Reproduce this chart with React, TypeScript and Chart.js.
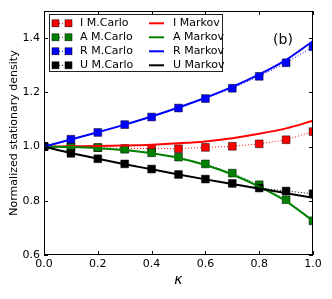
import React, { useEffect, useRef } from "react";
import { Chart, registerables } from "chart.js";
Chart.register(...registerables);

const kappa = [0, 0.1, 0.2, 0.3, 0.4, 0.5, 0.6, 0.7, 0.8, 0.9, 1.0];
const iMC = [1.0, 0.998, 0.996, 0.993, 0.993, 0.992, 0.997, 1.001, 1.01, 1.025, 1.055];
const aMC = [1.0, 0.998, 0.996, 0.99, 0.977, 0.961, 0.936, 0.902, 0.859, 0.804, 0.726];
const rMC = [1.0, 1.027, 1.052, 1.081, 1.109, 1.142, 1.177, 1.215, 1.259, 1.309, 1.368];
const uMC = [1.0, 0.975, 0.955, 0.936, 0.917, 0.897, 0.88, 0.864, 0.847, 0.836, 0.826];
const iMarkov = [1.0, 1.001, 1.002, 1.004, 1.007, 1.012, 1.019, 1.031, 1.047, 1.067, 1.095];
const aMarkov = [1.0, 0.998, 0.994, 0.987, 0.975, 0.958, 0.932, 0.897, 0.852, 0.798, 0.726];
const rMarkov = [1.0, 1.026, 1.053, 1.081, 1.111, 1.144, 1.18, 1.22, 1.266, 1.32, 1.389];
const uMarkov = [1.0, 0.976, 0.955, 0.935, 0.916, 0.897, 0.879, 0.862, 0.845, 0.828, 0.811];

const mcLabels = ["I M.Carlo", "A M.Carlo", "R M.Carlo", "U M.Carlo"];
const markovLabels = ["I Markov", "A Markov", "R Markov", "U Markov"];
const colors = ["#ff0000", "#008000", "#0000ff", "#000000"];
const xTicks = [0, 0.2, 0.4, 0.6, 0.8, 1.0];
const yTicks = [0.6, 0.8, 1.0, 1.2, 1.4];
const panelLabel = "(b)";
const xTitle = "κ";
const yTitle = "Normalized stationary density";

const FONT = "'DejaVu Sans', sans-serif";

const pts = (ys: number[]) => ys.map((y, i) => ({ x: kappa[i], y }));

const framePlugin = {
  id: "frame",
  afterDatasetsDraw(chart: any) {
    const { ctx, chartArea: a, scales } = chart;
    ctx.save();
    ctx.strokeStyle = "#000";
    ctx.lineWidth = 1;
    const L = 4;
    ctx.beginPath();
    for (const v of xTicks) {
      const px = Math.round(scales.x.getPixelForValue(v)) + 0.5;
      ctx.moveTo(px, a.bottom);
      ctx.lineTo(px, a.bottom - L);
      ctx.moveTo(px, a.top);
      ctx.lineTo(px, a.top + L);
    }
    for (const v of yTicks) {
      const py = Math.round(scales.y.getPixelForValue(v)) + 0.5;
      ctx.moveTo(a.left, py);
      ctx.lineTo(a.left + L, py);
      ctx.moveTo(a.right, py);
      ctx.lineTo(a.right - L, py);
    }
    ctx.stroke();
    ctx.strokeRect(a.left + 0.5, a.top + 0.5, a.right - a.left - 1, a.bottom - a.top - 1);
    ctx.restore();
  },
  afterDraw(chart: any) {
    const { ctx } = chart;
    ctx.save();
    // panel label
    ctx.fillStyle = "#000";
    ctx.font = `14px ${FONT}`;
    ctx.textAlign = "center";
    ctx.textBaseline = "alphabetic";
    ctx.fillText(panelLabel, 283, 43.5);
    // legend
    const bx = 49.5, by = 14.5, bw = 173, bh = 57;
    ctx.fillStyle = "#fff";
    ctx.fillRect(bx, by, bw, bh);
    ctx.strokeStyle = "#222";
    ctx.lineWidth = 1;
    ctx.strokeRect(bx, by, bw, bh);
    ctx.font = `11px ${FONT}`;
    ctx.textAlign = "left";
    ctx.textBaseline = "middle";
    for (let i = 0; i < 4; i++) {
      const ry = 23.3 + i * 14;
      const c = colors[i];
      // MC sample
      ctx.strokeStyle = c;
      ctx.lineWidth = 1;
      ctx.setLineDash([1, 2]);
      ctx.beginPath();
      ctx.moveTo(56, ry);
      ctx.lineTo(69, ry);
      ctx.stroke();
      ctx.setLineDash([]);
      for (const cx of [55.5, 68.5]) {
        ctx.fillStyle = c;
        ctx.fillRect(cx - 3.5, ry - 3.5, 7, 7);
        ctx.strokeStyle = "rgba(0,0,0,0.85)";
        ctx.lineWidth = 0.6;
        ctx.strokeRect(cx - 3.5, ry - 3.5, 7, 7);
      }
      ctx.fillStyle = "#000";
      ctx.fillText(mcLabels[i], 80, ry);
      // Markov sample
      ctx.strokeStyle = c;
      ctx.lineWidth = 2;
      ctx.beginPath();
      ctx.moveTo(149, ry);
      ctx.lineTo(164, ry);
      ctx.stroke();
      ctx.fillStyle = "#000";
      ctx.fillText(markovLabels[i], 173, ry);
    }
    ctx.restore();
  },
};

export default function App() {
  const ref = useRef<HTMLCanvasElement | null>(null);
  useEffect(() => {
    if (!ref.current) return;
    const mcData = [iMC, aMC, rMC, uMC];
    const mkData = [iMarkov, aMarkov, rMarkov, uMarkov];
    const datasets: any[] = [];
    let order = 20;
    mcData.forEach((d, i) => {
      datasets.push({
        label: mcLabels[i],
        data: pts(d),
        borderColor: colors[i],
        backgroundColor: colors[i],
        borderWidth: 1,
        borderDash: [1, 2],
        pointStyle: "rect",
        pointRadius: 5.5,
        pointBackgroundColor: colors[i],
        pointBorderColor: "rgba(0,0,0,0.85)",
        pointBorderWidth: 0.6,
        clip: 0,
        order: order--,
      });
    });
    mkData.forEach((d, i) => {
      datasets.push({
        label: markovLabels[i],
        data: pts(d),
        borderColor: colors[i],
        backgroundColor: colors[i],
        borderWidth: 2,
        pointRadius: 0,
        cubicInterpolationMode: "monotone",
        clip: 0,
        order: order--,
      });
    });
    const chart = new Chart(ref.current, {
      type: "line",
      data: { datasets },
      options: {
        animation: false,
        responsive: false,
        devicePixelRatio: 1,
        layout: { padding: { top: 11, right: 19, left: 0, bottom: 0 } },
        plugins: { legend: { display: false }, tooltip: { enabled: false } },
        scales: {
          x: {
            type: "linear",
            min: 0,
            max: 1,
            afterBuildTicks: (s: any) => {
              s.ticks = xTicks.map((v) => ({ value: v }));
            },
            afterFit: (s: any) => {
              s.height = 44;
            },
            grid: { display: false, drawTicks: false },
            border: { display: false },
            ticks: {
              padding: 3,
              color: "#000",
              font: { family: FONT, size: 11 },
              maxRotation: 0,
              callback: (v: any) => Number(v).toFixed(1),
            },
            title: {
              display: true,
              text: xTitle,
              color: "#000",
              font: { family: FONT, size: 14, style: "italic" },
              padding: { top: 0, bottom: 10 },
            },
          },
          y: {
            type: "linear",
            min: 0.6,
            max: 1.5,
            afterBuildTicks: (s: any) => {
              s.ticks = yTicks.map((v) => ({ value: v }));
            },
            afterFit: (s: any) => {
              s.width = 44;
            },
            grid: { display: false, drawTicks: false },
            border: { display: false },
            ticks: {
              padding: 4,
              color: "#000",
              font: { family: FONT, size: 11 },
              callback: (v: any) => Number(v).toFixed(1),
            },
            title: {
              display: true,
              text: yTitle,
              color: "#000",
              font: { family: FONT, size: 11 },
              padding: { top: 8, bottom: 0 },
            },
          },
        },
      },
      plugins: [framePlugin],
    });
    return () => chart.destroy();
  }, []);
  return (
    <div style={{ position: "absolute", left: 0, top: 0, width: 332, height: 299, background: "#fff" }}>
      <canvas ref={ref} width={332} height={299} style={{ width: 332, height: 299, display: "block" }} />
    </div>
  );
}
